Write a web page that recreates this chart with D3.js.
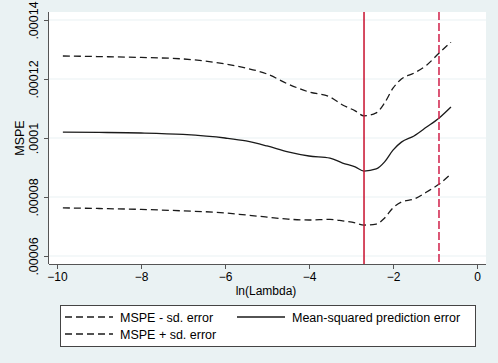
<!DOCTYPE html>
<html><head><meta charset="utf-8">
<script src="https://cdn.jsdelivr.net/npm/d3@7"></script>
<style>body{margin:0;background:#EAF2F3;} svg{display:block;font-family:"Liberation Sans",Arial,sans-serif;}</style>
</head><body>
<script>
const lnLambda = [-9.86,-9,-8,-7,-6,-5.5,-5,-4.5,-4,-3.5,-3.2,-2.9,-2.69,-2.4,-2.2,-2.0,-1.8,-1.5,-1.2,-0.9,-0.62];
const mspeUpper = [0.0001278,0.0001276,0.0001273,0.0001268,0.0001251,0.0001237,0.0001217,0.0001183,0.0001156,0.0001139,0.0001112,0.0001092,0.0001075,0.0001085,0.0001119,0.0001169,0.0001200,0.0001220,0.0001247,0.0001288,0.0001325];
const mspe = [0.0001020,0.0001019,0.0001017,0.0001012,0.0001000,0.0000990,0.0000973,0.0000953,0.0000939,0.0000932,0.0000915,0.0000902,0.0000888,0.0000895,0.0000919,0.0000959,0.0000986,0.0001007,0.0001037,0.0001068,0.0001105];
const mspeLower = [0.0000763,0.0000761,0.0000758,0.0000753,0.0000746,0.0000739,0.0000732,0.0000725,0.0000722,0.0000724,0.0000719,0.0000712,0.0000705,0.0000708,0.0000729,0.0000763,0.0000783,0.0000793,0.0000817,0.0000844,0.0000878];
const xTicks = [-10,-8,-6,-4,-2,0];
const yTicks = [0.00006,0.00008,0.0001,0.00012,0.00014];
const yTickLabels = [".00006",".00008",".0001",".00012",".00014"];
const lambdaMin = -2.69, lambda1se = -0.905;
const legendLabels = ["MSPE - sd. error","Mean-squared prediction error","MSPE + sd. error"];

const W=498,H=363;
const svg=d3.select("body").append("svg").attr("width",W).attr("height",H);
svg.append("rect").attr("width",W).attr("height",H).attr("fill","#EAF2F3");
const L=49,R=486,T=12,B=264;
const x=d3.scaleLinear().domain([-10,0]).range([57,477]);
const y=d3.scaleLinear().domain([0.00006,0.00014]).range([256,20]);
svg.append("rect").attr("x",L).attr("y",T).attr("width",R-L).attr("height",B-T).attr("fill","#fff");
// grid
svg.append("g").selectAll("line").data(yTicks).join("line")
  .attr("x1",L).attr("x2",R).attr("y1",d=>y(d)).attr("y2",d=>y(d))
  .attr("stroke","#EAF2F3").attr("stroke-width",1.2);
// axes
const ax=svg.append("g").attr("transform",`translate(0,${B})`)
  .call(d3.axisBottom(x).tickValues(xTicks).tickSize(5).tickSizeOuter(0).tickPadding(3).tickFormat(d3.format("d")));
ax.select(".domain").attr("d",`M${L},0.5H${R}`);
const ay=svg.append("g").attr("transform",`translate(${L},0)`)
  .call(d3.axisLeft(y).tickValues(yTicks).tickSize(5).tickSizeOuter(0).tickFormat((d,i)=>yTickLabels[i]));
ay.select(".domain").attr("d",`M-0.5,${T}V${B}`);
[ax,ay].forEach(a=>{a.selectAll(".domain,line").attr("stroke","#555").attr("stroke-width",1);
  a.selectAll("text").attr("fill","#000").style("font-family","Liberation Sans,Arial,sans-serif");});
ax.selectAll("text").style("font-size","12px");
ay.selectAll(".tick text").style("font-size","12.5px").attr("transform","rotate(-90)").attr("x",0).attr("y",-11).attr("dy","0").attr("text-anchor","middle");
// titles
svg.append("text").attr("x",266).attr("y",295).attr("text-anchor","middle").style("font-size","12px").text("ln(Lambda)");
svg.append("text").attr("transform","translate(24,138) rotate(-90)").attr("text-anchor","middle").style("font-size","12.5px").text("MSPE");
// lines
const line=v=>d3.line().curve(d3.curveMonotoneX).x((d,i)=>x(lnLambda[i])).y(d=>y(d))(v);
const g=svg.append("g");
g.append("path").attr("d",line(mspeUpper)).attr("fill","none").attr("stroke","#1a1a1a").attr("stroke-width",1.3).attr("stroke-dasharray","7,4");
g.append("path").attr("d",line(mspeLower)).attr("fill","none").attr("stroke","#1a1a1a").attr("stroke-width",1.3).attr("stroke-dasharray","7,4");
g.append("path").attr("d",line(mspe)).attr("fill","none").attr("stroke","#1a1a1a").attr("stroke-width",1.3);
g.append("line").attr("x1",x(lambdaMin)).attr("x2",x(lambdaMin)).attr("y1",T).attr("y2",B).attr("stroke","#C8102E").attr("stroke-width",1.5);
g.append("line").attr("x1",x(lambda1se)).attr("x2",x(lambda1se)).attr("y1",T).attr("y2",B).attr("stroke","#D0204A").attr("stroke-width",1.5).attr("stroke-dasharray","8,3");
// legend
const lg=svg.append("g");
lg.append("rect").attr("x",60.5).attr("y",305.5).attr("width",415).attr("height",41).attr("fill","#fff").attr("stroke","#444").attr("stroke-width",1);
const items=[{x:65,y:317,dash:"7,4",t:legendLabels[0]},{x:237,y:317,dash:null,t:legendLabels[1]},{x:65,y:334,dash:"7,4",t:legendLabels[2]}];
items.forEach(it=>{
  lg.append("line").attr("x1",it.x).attr("x2",it.x+48).attr("y1",it.y).attr("y2",it.y).attr("stroke","#1a1a1a").attr("stroke-width",1.3).attr("stroke-dasharray",it.dash);
  lg.append("text").attr("x",it.x+55).attr("y",it.y+4.5).style("font-size","12.5px").text(it.t);
});
</script>
</body></html>
